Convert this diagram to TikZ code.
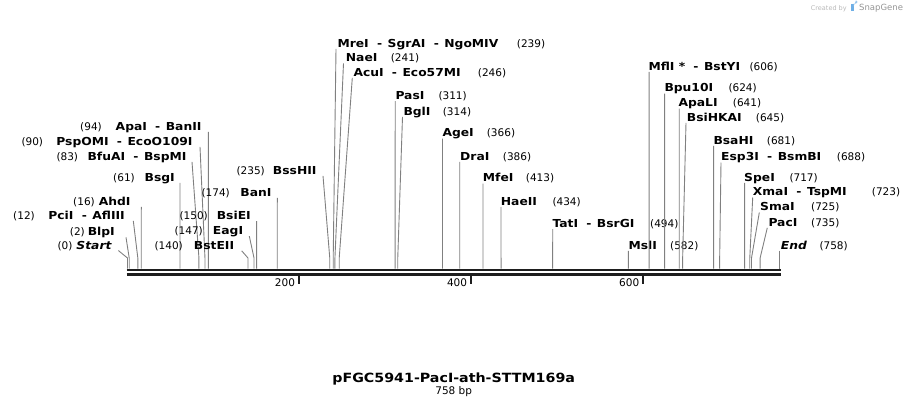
\documentclass[tikz,border=0pt]{standalone}
\usepackage{fontspec}
\setmainfont{DejaVu Sans}
\newfontfamily\enzfont[FakeStretch=1.12]{DejaVu Sans}
\usetikzlibrary{positioning}

\definecolor{cutgray}{RGB}{128,128,128}
\definecolor{axisblack}{RGB}{30,30,30}
\definecolor{markgray}{RGB}{185,185,185}
\definecolor{logoblue}{RGB}{110,175,230}

% separator between enzymes cutting at the same site
\newcommand{\esep}{\hspace{0.75em}-\hspace{0.5em}}

\begin{document}
\begin{tikzpicture}[x=1pt, y=-1pt,
        enz/.style = {inner sep=0pt,
            font=\enzfont\fontsize{11}{13}\bfseries\selectfont},
        enzit/.style = {inner sep=0pt,
            font=\enzfont\fontsize{11}{13}\bfseries\itshape\selectfont},
        num/.style = {inner sep=0pt,
            font=\fontsize{10.5}{12}\selectfont},
        cutline/.style = {cutgray, line width=0.9pt},
        axis/.style = {axisblack, line width=2.6pt},
        tick/.style = {axisblack, line width=2pt}
        ]

    \useasboundingbox (0,0) rectangle (908,408);

    % Watermark
    \node[inner sep=0pt, anchor=base west, markgray,
        font=\fontsize{6.5}{8}\selectfont] (made) at (810.7,10) {Created by};
    \fill[logoblue] (850.5,3.5) rectangle (853.5,11);
    \fill[logoblue!70] (853.5,3.5) -- (856,3.5) arc (90:-90:1.6) -- (853.5,6.7) -- cycle;
    \node[inner sep=0pt, anchor=base west, markgray!80!black,
        font=\fontsize{8.5}{10}\selectfont] (snap) at (859,10.5) {SnapGene};

    % Sequence axis
    \coordinate (knee) at (0,258);
    \draw[axis] (126.7,269.8) -- (780.7,269.8);
    \draw[axis] (126.7,274.5) -- (780.7,274.5);

    % Ruler ticks
    \foreach \t in {200,400,600} {
        \pgfmathsetmacro\tx{126.5+0.8607*\t}
        \coordinate (tick\t) at (\tx,283.5);
        \draw[tick] (\tx,275.5) -- (tick\t);
        \node[num, anchor=base east] (lab\t) at ([xshift=-3.5pt]\tx,286) {\t};
    }

    % Start
    \coordinate (cutS) at (127.5,268.5);
    \coordinate (footS) at (118.3,250.5);
    \node[enzit, anchor=base east] (start) at (111.7,249) {Start};
    \node[num, anchor=base east] (startpos) at (72.7,249) {(0)};
    \draw[cutline] (footS) -- (cutS |- knee) -- (cutS);

    % Labels left of their cut site
    \foreach \p/\n/\xa/\y/\xb/\fx [count=\i] in {
        2/BlpI/115/235.5/85/126,
        12/PciI\esep AflIII/125/219/35/133.3,
        16/AhdI/130.7/205/95/141.3,
        61/BsgI/175/181/135/180,
        83/BfuAI\esep BspMI/186.7/160/78.3/192,
        90/PspOMI\esep EcoO109I/192.7/145/43.3/200,
        94/ApaI\esep BanII/201.7/130/102/208.4,
        140/BstEII/234.3/249/183/241.7,
        147/EagI/243.3/234.3/203/249.3,
        150/BsiEI/251/219.3/208/256.6,
        174/BanI/271.7/196/230/277.3,
        235/BssHII/316.7/174/265/323} {
        \pgfmathsetmacro\cx{127.5+0.8607*\p}
        \coordinate (cutL\i) at (\cx,268.5);
        \coordinate (footL\i) at (\fx,\y+1.8);
        \node[enz, anchor=base east] (enzL\i) at (\xa,\y) {\n};
        \node[num, anchor=base east] (posL\i) at (\xb,\y) {(\p)};
        \draw[cutline] (footL\i) -- (cutL\i |- knee) -- (cutL\i);
    }

    % Labels right of their cut site
    \foreach \p/\n/\xa/\y/\xb/\fx [count=\i] in {
        239/MreI\esep SgrAI\esep NgoMIV/337.3/47/516.7/336,
        241/NaeI/345.7/61.5/390.7/343.5,
        246/AcuI\esep Eco57MI/353.3/76/477.7/352.3,
        311/PasI/395.3/99.3/438.3/395.2,
        314/BglI/403.3/115/442.7/402.5,
        366/AgeI/442.3/136.7/486.7/442.5,
        386/DraI/460/160/502.7/459.7,
        413/MfeI/482.7/181.7/525.7/483,
        434/HaeII/500.7/205/552.3/501,
        494/TatI\esep BsrGI/552.3/227.3/650/552.7,
        582/MslI/628.3/249/670/628.4,
        606/MflI *\esep BstYI/648.3/70/749.3/649.1,
        624/Bpu10I/664.3/91.7/728.3/664.6,
        641/ApaLI/678.3/106.7/732.7/679.2,
        645/BsiHKAI/686.7/121/755.7/686,
        681/BsaHI/713.3/144/766.7/713.6,
        688/Esp3I\esep BsmBI/721/160.7/836.7/721,
        717/SpeI/744/181/789.3/744.6,
        723/XmaI\esep TspMI/752.7/195.7/871.7/752.7,
        725/SmaI/760/210.7/811/759.3,
        735/PacI/768.3/226/811/767.3} {
        \pgfmathsetmacro\cx{127.5+0.8607*\p}
        \coordinate (cutR\i) at (\cx,268.5);
        \coordinate (footR\i) at (\fx,\y+1.8);
        \node[enz, anchor=base west] (enzR\i) at (\xa,\y) {\n};
        \node[num, anchor=base west] (posR\i) at (\xb,\y) {(\p)};
        \draw[cutline] (footR\i) -- (cutR\i |- knee) -- (cutR\i);
    }

    % End
    \coordinate (cutE) at (779.9,268.5);
    \coordinate (footE) at (779.9,250.5);
    \node[enzit, anchor=base west] (end) at (780.7,249) {End};
    \node[num, anchor=base west] (endpos) at (819.3,249) {(758)};
    \draw[cutline] (footE) -- (cutE);

    % Title
    \node[inner sep=0pt, anchor=base,
        font=\enzfont\fontsize{12.7}{15}\bfseries\selectfont] (title) at (453.7,382.7) {pFGC5941-PacI-ath-STTM169a};
    \node[num, anchor=base, below=3.6pt of title.base] (size) {758 bp};

\end{tikzpicture}
\end{document}
